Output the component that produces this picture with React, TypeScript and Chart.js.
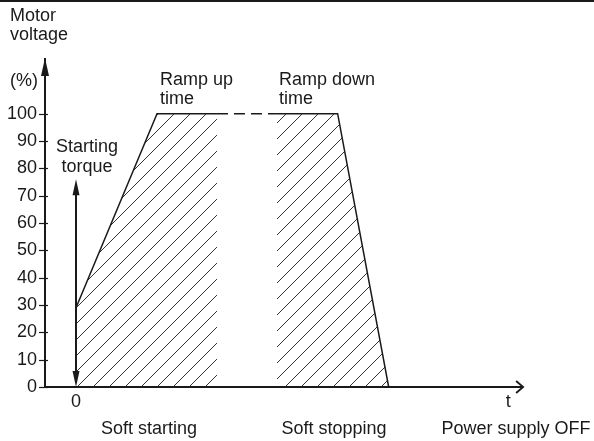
import React, { useEffect, useRef } from "react";
import { Chart, registerables } from "chart.js";

Chart.register(...registerables);

// ---- data ----
const voltageTicks = [0, 10, 20, 30, 40, 50, 60, 70, 80, 90, 100];
const rampUpX = [0, 10, 17.4];
const rampUpY = [29, 100, 100];
const gapX = [17.4, 24.8];
const gapY = [100, 100];
const rampDownX = [24.8, 32.3, 38.6];
const rampDownY = [100, 100, 0];
const torqueArrowY = [0, 76];
const timeAxisEnd = 55.2;
const yAxisTop = 120;

const FONT = "18px 'Liberation Sans', Arial, Helvetica, sans-serif";
const INK = "#1a1a1a";

function makePattern(): CanvasPattern | string {
  const c = document.createElement("canvas");
  c.width = 16;
  c.height = 16;
  const g = c.getContext("2d");
  if (!g) return "rgba(0,0,0,0.1)";
  g.strokeStyle = "#333";
  g.lineWidth = 1;
  g.beginPath();
  g.moveTo(-2, 18);
  g.lineTo(18, -2);
  g.moveTo(-2, 2);
  g.lineTo(2, -2);
  g.moveTo(14, 18);
  g.lineTo(18, 14);
  g.stroke();
  const p = g.createPattern(c, "repeat");
  return p || "rgba(0,0,0,0.1)";
}

const toPts = (xs: number[], ys: number[]) => xs.map((x, i) => ({ x, y: ys[i] }));

export default function App() {
  const ref = useRef<HTMLCanvasElement | null>(null);

  useEffect(() => {
    document.body.style.margin = "0";
    const canvas = ref.current;
    if (!canvas) return;
    const pattern = makePattern();

    const decor = {
      id: "decor",
      afterDraw(chart: any) {
        const ctx = chart.ctx as CanvasRenderingContext2D;
        const xs = chart.scales.x;
        const ys = chart.scales.y;
        const x0 = xs.getPixelForValue(0);
        const yb = ys.getPixelForValue(0);
        const axisX = chart.chartArea.left;
        ctx.save();
        ctx.fillStyle = INK;
        ctx.strokeStyle = INK;
        // top rule
        ctx.fillRect(0, 0, chart.width, 2);
        // y tick marks
        ctx.lineWidth = 1.2;
        voltageTicks.forEach((v) => {
          const py = Math.round(ys.getPixelForValue(v)) + 0.5;
          ctx.beginPath();
          ctx.moveTo(axisX - 6, py);
          ctx.lineTo(axisX + 3, py);
          ctx.stroke();
        });
        // y axis arrow head
        const yTop = ys.getPixelForValue(yAxisTop);
        ctx.beginPath();
        ctx.moveTo(axisX, yTop - 1);
        ctx.lineTo(axisX - 4, yTop + 17);
        ctx.lineTo(axisX + 4, yTop + 17);
        ctx.closePath();
        ctx.fill();
        // x axis
        const xEnd = xs.getPixelForValue(timeAxisEnd);
        ctx.lineWidth = 2;
        ctx.beginPath();
        ctx.moveTo(axisX, yb);
        ctx.lineTo(xEnd, yb);
        ctx.stroke();
        ctx.lineWidth = 1.8;
        ctx.beginPath();
        ctx.moveTo(xEnd - 7, yb - 6);
        ctx.lineTo(xEnd, yb);
        ctx.lineTo(xEnd - 7, yb + 6);
        ctx.stroke();
        // starting torque arrow
        const tTop = ys.getPixelForValue(torqueArrowY[1]);
        const tBot = ys.getPixelForValue(torqueArrowY[0]);
        ctx.lineWidth = 2;
        ctx.beginPath();
        ctx.moveTo(x0, tTop + 10);
        ctx.lineTo(x0, tBot - 10);
        ctx.stroke();
        ctx.beginPath();
        ctx.moveTo(x0, tTop);
        ctx.lineTo(x0 - 3.5, tTop + 16);
        ctx.lineTo(x0 + 3.5, tTop + 16);
        ctx.closePath();
        ctx.fill();
        ctx.beginPath();
        ctx.moveTo(x0, tBot);
        ctx.lineTo(x0 - 3.5, tBot - 16);
        ctx.lineTo(x0 + 3.5, tBot - 16);
        ctx.closePath();
        ctx.fill();
        // texts
        ctx.font = FONT;
        ctx.textBaseline = "alphabetic";
        ctx.textAlign = "left";
        ctx.fillText("Motor", 10, 21);
        ctx.fillText("voltage", 10, 40);
        ctx.fillText("(%)", 10, 86);
        ctx.fillText("Ramp up", 160, 85);
        ctx.fillText("time", 160, 104);
        ctx.fillText("Ramp down", 279, 85);
        ctx.fillText("time", 279, 104);
        ctx.textAlign = "center";
        ctx.fillText("Starting", 87, 152);
        ctx.fillText("torque", 87, 172);
        ctx.fillText("0", x0, 407);
        ctx.fillText("t", xEnd - 15, 407);
        ctx.fillText("Soft starting", 149, 434);
        ctx.fillText("Soft stopping", 334, 434);
        ctx.fillText("Power supply OFF", 516, 434);
        ctx.restore();
      },
    };

    const chart = new Chart(canvas, {
      type: "scatter",
      data: {
        datasets: [
          {
            data: toPts(rampUpX, rampUpY),
            showLine: true,
            borderColor: INK,
            borderWidth: 1.5,
            pointRadius: 0,
            fill: "origin",
            backgroundColor: pattern as any,
            tension: 0,
          },
          {
            data: toPts(rampDownX, rampDownY),
            showLine: true,
            borderColor: INK,
            borderWidth: 1.5,
            pointRadius: 0,
            fill: "origin",
            backgroundColor: pattern as any,
            tension: 0,
          },
          {
            data: toPts(gapX, gapY),
            showLine: true,
            borderColor: INK,
            borderWidth: 1.5,
            borderDash: [11, 6],
            pointRadius: 0,
            fill: false,
          },
        ],
      },
      options: {
        responsive: false,
        animation: false,
        layout: { padding: { top: 59, bottom: 54, left: 0, right: 0 } },
        plugins: { legend: { display: false }, tooltip: { enabled: false } },
        scales: {
          x: {
            type: "linear",
            display: false,
            min: -3.83,
            max: 63.95,
          },
          y: {
            type: "linear",
            min: 0,
            max: yAxisTop,
            afterBuildTicks: (s: any) => {
              s.ticks = voltageTicks.map((v) => ({ value: v }));
            },
            afterFit: (s: any) => {
              s.width = 45;
            },
            ticks: {
              padding: 8,
              color: INK,
              font: { family: "'Liberation Sans', Arial, sans-serif", size: 18 },
            },
            grid: { display: false, drawTicks: false },
            border: { display: true, color: INK, width: 2 },
          },
        },
      },
      plugins: [decor],
    });
    return () => chart.destroy();
  }, []);

  return (
    <div style={{ width: 594, height: 441 }}>
      <canvas ref={ref} width={594} height={441} />
    </div>
  );
}
